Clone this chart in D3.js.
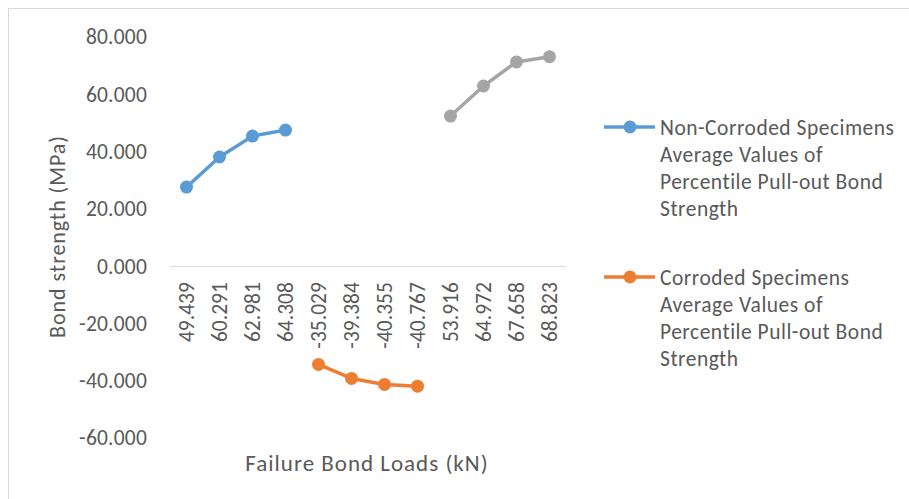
<!DOCTYPE html>
<html>
<head>
<meta charset="utf-8">
<script src="https://cdn.jsdelivr.net/npm/d3@7/dist/d3.min.js"></script>
<style>
  body { margin: 0; background: #fff; }
  svg { display: block; font-family: Carlito, Lato, "Open Sans", sans-serif; }
</style>
</head>
<body>
<svg id="chart" width="909" height="499"></svg>
<script>
// Failure bond loads (kN) used as category labels
const categories = ["49.439", "60.291", "62.981", "64.308", "-35.029", "-39.384",
  "-40.355", "-40.767", "53.916", "64.972", "67.658", "68.823"];

// Average percentile pull-out bond strength (MPa) per group
const nonCorroded = [27.6, 38.1, 45.4, 47.5];
const corroded = [-34.3, -39.2, -41.3, -41.9];
const thirdGroup = [52.4, 62.9, 71.3, 73.1];

const yTicks = [80, 60, 40, 20, 0, -20, -40, -60];

const legendNames = [
  ["Non-Corroded Specimens", "Average Values of", "Percentile Pull-out Bond", "Strength"],
  ["Corroded Specimens", "Average Values of", "Percentile Pull-out Bond", "Strength"]
];

const series = [
  { values: nonCorroded, offset: 0, color: "#5b9bd5" },
  { values: corroded, offset: 4, color: "#ed7d31" },
  { values: thirdGroup, offset: 8, color: "#a5a5a5" }
];

const svg = d3.select("#chart");
const textColor = "#595959";
const fontStack = "Carlito, Lato, 'Open Sans', sans-serif";
const fmt = v => d3.format(".3f")(v).replace("\u2212", "-");

// Chart frame
svg.append("rect")
  .attr("x", 8.5).attr("y", 8.5)
  .attr("width", 920).attr("height", 520)
  .attr("fill", "#fff").attr("stroke", "#d9d9d9").attr("stroke-width", 1);

const x = d3.scaleBand().domain(categories).range([170, 566]);
const y = d3.scaleLinear().domain([-60, 80]).range([438, 37]);

// Y axis labels (no line, no ticks)
const yAxis = svg.append("g")
  .attr("transform", "translate(152,0)")
  .call(d3.axisLeft(y).tickValues(yTicks).tickFormat(fmt).tickSize(0).tickPadding(5));
yAxis.select(".domain").remove();
yAxis.selectAll("text")
  .attr("fill", textColor)
  .style("font-size", "21.5px")
  .style("letter-spacing", "0.2px")
  .style("font-family", fontStack);

// Horizontal axis line at zero
svg.append("line")
  .attr("x1", x.range()[0]).attr("x2", x.range()[1])
  .attr("y1", y(0) + 0.5).attr("y2", y(0) + 0.5)
  .attr("stroke", "#d9d9d9").attr("stroke-width", 1);

// Category labels, rotated
const xAxis = svg.append("g")
  .attr("transform", `translate(0,${y(0)})`)
  .call(d3.axisBottom(x).tickSize(0).tickPadding(0));
xAxis.select(".domain").remove();
xAxis.selectAll("text")
  .attr("fill", textColor)
  .style("font-size", "21.5px")
  .style("font-family", fontStack)
  .attr("text-anchor", "end")
  .attr("transform", "translate(0,16) rotate(-90)")
  .attr("x", 0).attr("y", 0).attr("dy", "0.35em");

// Lines and markers
const line = d3.line()
  .x(d => x(d.cat) + x.bandwidth() / 2)
  .y(d => y(d.v));

series.forEach(s => {
  const pts = s.values.map((v, i) => ({ cat: categories[s.offset + i], v }));
  svg.append("path")
    .datum(pts)
    .attr("d", line)
    .attr("fill", "none")
    .attr("stroke", s.color)
    .attr("stroke-width", 3.5)
    .attr("stroke-linejoin", "round");
  svg.selectAll(null)
    .data(pts)
    .enter().append("circle")
    .attr("cx", d => x(d.cat) + x.bandwidth() / 2)
    .attr("cy", d => y(d.v))
    .attr("r", 6.5)
    .attr("fill", s.color);
});

// Axis titles
svg.append("text")
  .attr("x", 367).attr("y", 463).attr("dy", "0.35em")
  .attr("text-anchor", "middle")
  .attr("fill", textColor)
  .style("font-size", "23px").style("letter-spacing", "1px")
  .text("Failure Bond Loads (kN)");

svg.append("text")
  .attr("transform", "translate(57,236.5) rotate(-90)")
  .attr("dy", "0.35em")
  .attr("text-anchor", "middle")
  .attr("fill", textColor)
  .style("font-size", "22px").style("letter-spacing", "0.95px")
  .text("Bond strength (MPa)");

// Legend
const legendTop = [127, 277];
legendNames.forEach((lines, k) => {
  const g = svg.append("g").attr("transform", `translate(0,${legendTop[k]})`);
  g.append("line")
    .attr("x1", 604).attr("x2", 655).attr("y1", 0).attr("y2", 0)
    .attr("stroke", series[k].color).attr("stroke-width", 3.5);
  g.append("circle").attr("cx", 630).attr("cy", 0).attr("r", 6.5).attr("fill", series[k].color);
  lines.forEach((t, j) => {
    g.append("text")
      .attr("x", 660).attr("y", j * 27.2).attr("dy", "0.35em")
      .attr("fill", textColor)
      .style("font-size", "21.5px").style("letter-spacing", "0.5px")
      .text(t);
  });
});
</script>
</body>
</html>
